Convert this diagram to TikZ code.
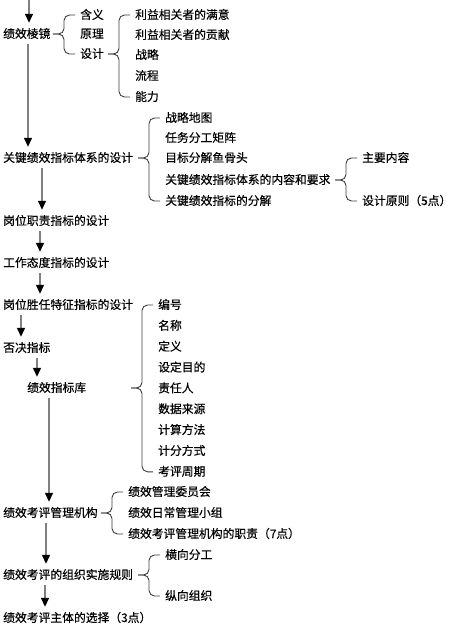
\documentclass[tikz,border=0pt]{standalone}
\usepackage{fontspec}
\setmainfont{Noto Sans CJK SC}[FakeBold=0.4]
\usetikzlibrary{arrows.meta, calc}
\definecolor{arrowgray}{RGB}{128,128,128}
\definecolor{bracegray}{RGB}{60,60,60}
\tikzset{
  txt/.style={anchor=west, inner sep=0pt, text height=10pt, text depth=2pt,
    font=\fontsize{11.8}{14}\selectfont},
  jiantou/.style={draw=arrowgray, line width=1.3pt,
    -{Triangle[length=9pt, width=8pt, color=black]}, shorten <=4pt, shorten >=5pt},
  bracepath/.style={draw=bracegray, line width=0.9pt, rounded corners=5.5pt}
}
% brace from parent #1 to first child #2 and last child #3
\newcommand{\kuohao}[3]{%
  \coordinate (kh) at ($(#2.west |- #1.west)+(-27pt,0)$);
  \draw[bracepath] (kh) -| ($(#2.west)+(-16pt,0)$) -- ($(#2.west)+(-5pt,0)$);
  \draw[bracepath] (kh) -| ($(#3.west)+(-16pt,0)$) -- ($(#3.west)+(-5pt,0)$);
}

\begin{document}
\begin{tikzpicture}[x=1pt, y=-1pt]
  \useasboundingbox (0,0) rectangle (452,626);

  % balanced scorecard part
  \node[txt] (lens) at (3,34) {绩效棱镜};
  \node[txt] (hanyi) at (80,15) {含义};
  \node[txt] (yuanli) at (80,34) {原理};
  \node[txt] (sheji) at (80,54) {设计};
  \node[txt] (manyi) at (135,15) {利益相关者的满意};
  \node[txt] (gongxian) at (135,35) {利益相关者的贡献};
  \node[txt] (zhanlue) at (135,55) {战略};
  \node[txt] (liucheng) at (135,76) {流程};
  \node[txt] (nengli) at (135,97) {能力};
  \kuohao{lens}{hanyi}{sheji}
  \kuohao{sheji}{manyi}{nengli}

  % kpi system
  \node[txt] (kpi) at (3,158) {关键绩效指标体系的设计};
  \node[txt] (ditu) at (165,118) {战略地图};
  \node[txt] (juzhen) at (165,138) {任务分工矩阵};
  \node[txt] (yugutou) at (165,158) {目标分解鱼骨头};
  \node[txt] (neirong) at (165,180) {关键绩效指标体系的内容和要求};
  \node[txt] (fenjie) at (165,201) {关键绩效指标的分解};
  \node[txt] (zhuyao) at (362,158) {主要内容};
  \node[txt] (yuanze) at (362,201) {设计原则（5点）};
  \kuohao{kpi}{ditu}{fenjie}
  \kuohao{neirong}{zhuyao}{yuanze}

  \node[txt] (gangwei) at (3,221) {岗位职责指标的设计};
  \node[txt] (taidu) at (3,263) {工作态度指标的设计};
  \node[txt] (shengren) at (3,305) {岗位胜任特征指标的设计};
  \node[txt] (foujue) at (3,348) {否决指标};
  \node[txt] (ku) at (27,388) {绩效指标库};

  % indicator library fields
  \foreach \f [count=\i from 1] in {编号,名称,定义,设定目的,责任人,数据来源,计算方法,计分方式,考评周期}{
    \node[txt] (k\i) at (158, 305+20.85*\i-20.85) {\f};
  }
  \kuohao{ku}{k1}{k9}

  % organisation
  \node[txt] (jigou) at (3,513) {绩效考评管理机构};
  \node[txt] (weiyuanhui) at (128,492) {绩效管理委员会};
  \node[txt] (xiaozu) at (128,513) {绩效日常管理小组};
  \node[txt] (zhize) at (128,534) {绩效考评管理机构的职责（7点）};
  \kuohao{jigou}{weiyuanhui}{zhize}

  \node[txt] (guize) at (3,575) {绩效考评的组织实施规则};
  \node[txt] (hengxiang) at (165,555) {横向分工};
  \node[txt] (zongxiang) at (165,596) {纵向组织};
  \kuohao{guize}{hengxiang}{zongxiang}

  \node[txt] (zhuti) at (3,618) {绩效考评主体的选择（3点）};

  % main flow
  \coordinate (start) at (29,0);
  \draw[jiantou, shorten <=0pt] (start) -- ([xshift=26pt]lens.north west);
  \draw[jiantou] ([xshift=25pt]lens.south west) -- ([xshift=25pt]kpi.north west);
  \draw[jiantou] ([xshift=39pt]kpi.south west) -- ([xshift=39pt]gangwei.north west);
  \draw[jiantou] ([xshift=37pt]gangwei.south west) -- ([xshift=37pt]taidu.north west);
  \draw[jiantou] ([xshift=37pt]taidu.south west) -- ([xshift=37pt]shengren.north west);
  \draw[jiantou] ([xshift=18pt]shengren.south west) -- ([xshift=18pt]foujue.north west);
  \draw[jiantou] ([xshift=34pt]foujue.south west) -- ([xshift=10pt]ku.north west);
  \draw[jiantou] ([xshift=22pt]ku.south west) -- ([xshift=46pt]jigou.north west);
  \draw[jiantou] ([xshift=43pt]jigou.south west) -- ([xshift=43pt]guize.north west);
  \draw[jiantou] ([xshift=42pt]guize.south west) -- ([xshift=42pt]zhuti.north west);
\end{tikzpicture}
\end{document}
